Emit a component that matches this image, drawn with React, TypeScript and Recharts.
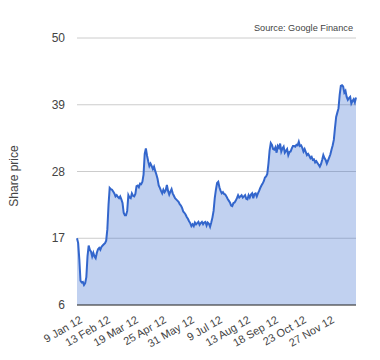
import { Area, AreaChart, CartesianGrid, XAxis, YAxis } from "recharts";

// daily closes, 9 Jan 12 onwards
const prices = [
  17.0, 16.2, 13.5, 10.0, 9.7, 9.8, 9.3, 9.6, 10.6, 14.0,
  15.8, 15.1, 14.8, 14.0, 14.6, 14.0, 13.7, 14.6, 15.2, 15.4,
  15.1, 15.6, 15.8, 16.0, 16.2, 16.6, 18.5, 22.5, 25.3, 25.1,
  25.0, 24.7, 24.4, 23.9, 24.1, 23.8, 23.6, 23.9, 23.4, 22.8,
  21.2, 20.8, 20.8, 21.5, 24.1, 23.7, 23.6, 24.4, 24.0, 23.9,
  24.3, 25.6, 25.7, 25.4, 26.0, 25.9, 26.3, 27.5, 30.9, 31.8,
  30.6, 29.7, 28.9, 29.3, 28.9, 28.4, 28.8, 28.1, 27.5, 26.8,
  25.7, 25.3, 24.8, 24.4, 25.0, 24.6, 24.9, 25.8, 24.8, 24.2,
  24.7, 25.1, 24.4, 24.0, 23.6, 23.4, 23.2, 23.0, 22.6, 22.4,
  22.0, 21.4, 21.2, 20.9, 20.5, 20.2, 19.8, 19.5, 19.0, 19.3,
  19.0, 19.6, 19.3, 19.5, 19.7, 19.2, 19.5, 19.7, 19.3, 19.6,
  19.7, 19.1, 19.6, 19.4, 18.9, 19.6, 20.4, 21.5, 23.6, 25.0,
  26.1, 26.3, 25.4, 24.8, 24.4, 24.6, 24.3, 24.2, 23.9, 23.5,
  23.2, 22.9, 22.4, 22.3, 22.8, 22.9, 23.2, 23.6, 24.1, 23.7,
  23.9, 24.1, 23.7, 23.9, 24.1, 23.5, 23.4, 24.1, 23.7, 24.2,
  24.4, 23.6, 24.3, 24.4, 23.9, 24.4, 24.8, 25.3, 25.7, 26.0,
  26.4, 27.0, 27.2, 27.6, 29.3, 31.5, 32.7, 32.4, 31.7, 31.6,
  32.0, 31.1, 32.2, 31.9, 32.6, 31.3, 31.8, 32.1, 31.1, 31.4,
  31.7, 30.7, 31.2, 31.3, 31.8, 32.2, 32.2, 32.1, 32.4, 32.3,
  32.9, 32.2, 32.3, 31.9, 31.3, 31.7, 31.2, 30.7, 30.9, 30.6,
  30.2, 30.4, 29.9, 30.0, 29.5, 29.7, 29.4, 29.1, 28.8, 29.2,
  29.9, 30.7, 30.2, 29.9, 29.3, 29.8, 30.3, 30.8, 31.6, 32.3,
  33.2, 35.2, 37.0, 37.7, 38.4, 40.6, 42.1, 42.2, 42.0, 41.0,
  41.3, 40.3, 39.8, 40.1, 40.3, 39.2, 39.6, 39.9, 39.4, 40.2,
];

const tickLabels = [
  "9 Jan 12", "13 Feb 12", "19 Mar 12", "25 Apr 12", "31 May 12",
  "9 Jul 12", "13 Aug 12", "18 Sep 12", "23 Oct 12", "27 Nov 12",
];
const tickStep = 24; // one label every 24 trading days
const yTicks = [6, 17, 28, 39, 50];

const data = prices.map((price, i) => ({ i, price }));
const xTicks = tickLabels.map((_, k) => k * tickStep);

const font = "Arial, 'Liberation Sans', sans-serif";

function DateTick({ x, y, payload }: any) {
  const label = tickLabels[payload.value / tickStep] ?? "";
  return (
    <text
      transform={`translate(${x + 6},${y + 9}) rotate(-30)`}
      textAnchor="end"
      fontSize={11}
      fontFamily={font}
      fill="#444"
    >
      {label}
    </text>
  );
}

function PriceTick({ x, y, payload }: any) {
  return (
    <text
      x={x - 4}
      y={y}
      dy={4}
      textAnchor="end"
      fontSize={12}
      fontFamily={font}
      fill="#444"
    >
      {payload.value}
    </text>
  );
}

export default function App() {
  return (
    <div style={{ position: "absolute", left: 0, top: 0 }}>
      <AreaChart
        width={380}
        height={360}
        data={data}
        margin={{ top: 38, right: 24, bottom: 0, left: 0 }}
      >
        <CartesianGrid vertical={false} stroke="#ccc" />
        <XAxis
          dataKey="i"
          type="category"
          ticks={xTicks}
          interval={0}
          height={55}
          tick={<DateTick />}
          tickLine={false}
          axisLine={{ stroke: "#333" }}
        />
        <YAxis
          domain={[6, 50]}
          ticks={yTicks}
          width={77}
          tick={<PriceTick />}
          tickLine={false}
          axisLine={false}
        />
        <Area
          type="linear"
          dataKey="price"
          stroke="#3366cc"
          strokeWidth={2}
          fill="#3366cc"
          fillOpacity={0.3}
          isAnimationActive={false}
          dot={false}
          activeDot={false}
        />
        <text
          x={18}
          y={176}
          transform="rotate(-90 18 176)"
          textAnchor="middle"
          fontSize={12}
          fontFamily={font}
          fill="#444"
        >
          Share price
        </text>
        <text
          x={353}
          y={31}
          textAnchor="end"
          fontSize={9.2}
          fontFamily={font}
          fill="#444"
        >
          Source: Google Finance
        </text>
      </AreaChart>
    </div>
  );
}
